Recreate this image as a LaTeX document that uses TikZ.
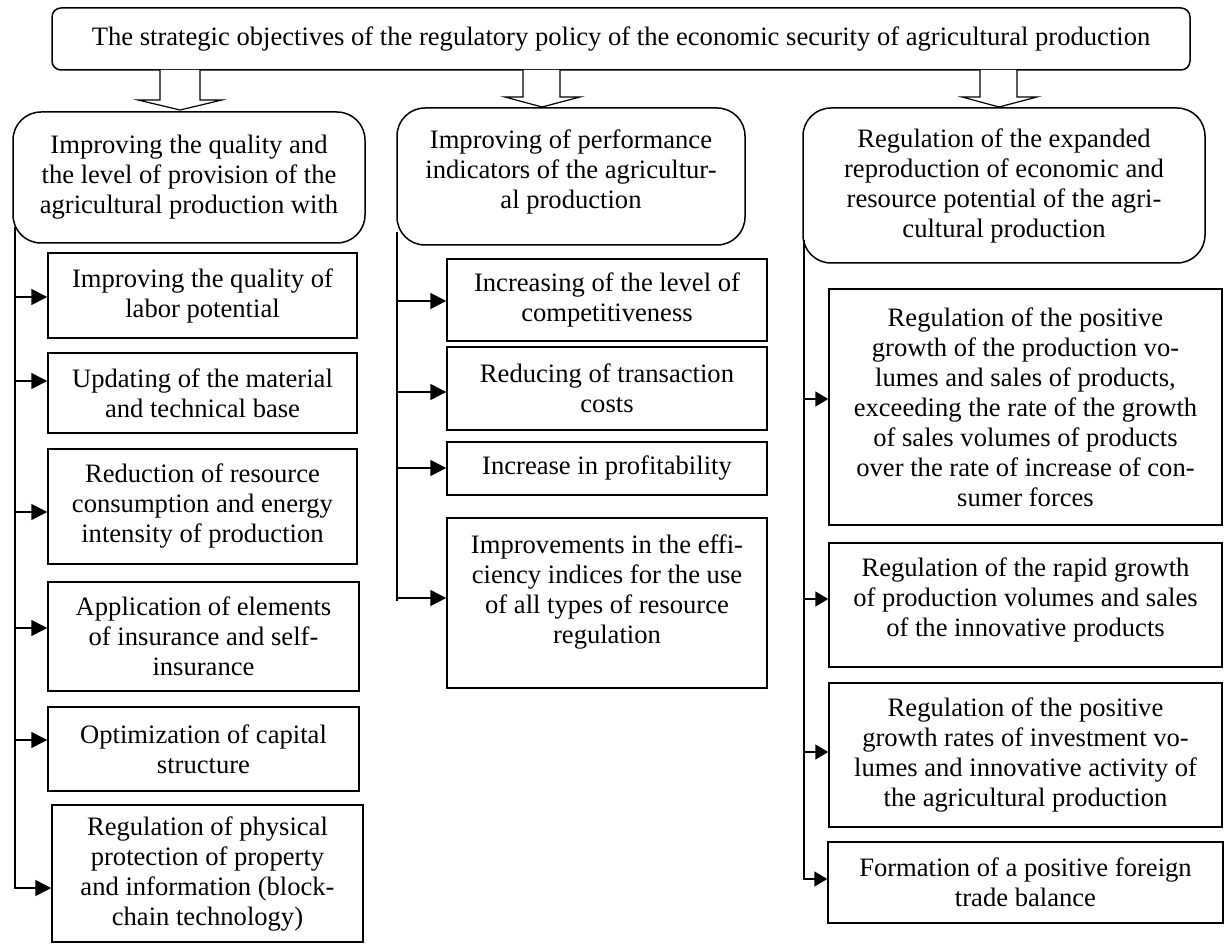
\documentclass[tikz,border=0pt]{standalone}
\usepackage{fontspec}
\setmainfont{Liberation Serif}
\usetikzlibrary{arrows.meta}
\begin{document}
\begin{tikzpicture}[x=1pt,y=-1pt,
  every node/.style={font=\fontsize{26.6}{30}\selectfont},
  txt/.style={align=center,inner sep=0pt},
  topbox/.style={draw,line width=1.5pt,rounded corners=9pt,inner sep=0pt,align=center},
  hdr/.style={draw,line width=1.5pt,rounded corners=28pt,inner sep=0pt,align=center},
  itembox/.style={draw,line width=1.5pt,inner sep=0pt,align=center},
  spine/.style={line width=1.5pt},
  arr/.style={line width=1.5pt,-{Triangle[length=16pt,width=16pt]}},
  sarr/.style={line width=1.5pt,-{Triangle[length=13pt,width=15pt]}},
  blockarrow/.style={line width=1.2pt,fill=white,line join=miter}
]
\useasboundingbox (0,0) rectangle (1224,944);

% top box
\node[topbox,minimum width=1138pt,minimum height=62pt] (top) at (621,39)
  {The strategic objectives of the regulatory policy of the economic security of agricultural production};

% block arrows
\draw[blockarrow] (160,70) -- (160,100) -- (138,100) -- (180,110) -- (222,100) -- (200,100) -- (200,70);
\draw[blockarrow] (523,70) -- (523,97) -- (505,97) -- (542,107) -- (580,97) -- (560,97) -- (560,70);
\draw[blockarrow] (980,70) -- (980,97) -- (962,97) -- (999,107) -- (1037,97) -- (1017,97) -- (1017,70);

% headers
\node[hdr,minimum width=352pt,minimum height=131pt] (LH) at (189,177.5)
  {Improving the quality and\\the level of provision of the\\agricultural production with};
\node[hdr,minimum width=348pt,minimum height=137pt] (MH) at (571,176.5) {};
\node[txt] (MHt) at (571,172) {Improving of performance\\indicators of the agricultur-\\al production};
\node[hdr,minimum width=402pt,minimum height=155pt] (RH) at (1004,185.5)
  {Regulation of the expanded\\reproduction of economic and\\resource potential of the agri-\\cultural production};

% left column
\node[itembox,minimum width=309pt,minimum height=85pt] (L1) at (202.5,295.5)
  {Improving the quality of\\labor potential};
\node[itembox,minimum width=309pt,minimum height=80pt] (L2) at (202.5,393)
  {Updating of the material\\and technical base};
\node[itembox,minimum width=309pt,minimum height=115pt] (L3) at (202.5,506.5)
  {Reduction of resource\\consumption and energy\\intensity of production};
\node[itembox,minimum width=311pt,minimum height=109pt] (L4) at (203.5,636.5)
  {Application of elements\\of insurance and self-\\insurance};
\node[itembox,minimum width=311pt,minimum height=84pt] (L5) at (203.5,749)
  {Optimization of capital\\structure};
\node[itembox,minimum width=311pt,minimum height=137pt] (L6) at (207.5,873.5)
  {Regulation of physical\\protection of property\\and information (block-\\chain technology)};

\coordinate (ls) at (15,227);
\coordinate (l1) at (15,297);
\coordinate (l2) at (15,381);
\coordinate (l3) at (15,512);
\coordinate (l4) at (15,628);
\coordinate (l5) at (15,740);
\coordinate (l6) at (15,888);
\draw[arr] (ls) -- (l6) -- (l6 -| L6.west);
\draw[arr] (l1) -- (l1 -| L1.west);
\draw[arr] (l2) -- (l2 -| L2.west);
\draw[arr] (l3) -- (l3 -| L3.west);
\draw[arr] (l4) -- (l4 -| L4.west);
\draw[arr] (l5) -- (l5 -| L5.west);

% middle column
\node[itembox,minimum width=320pt,minimum height=82pt] (M1) at (607,300)
  {Increasing of the level of\\competitiveness};
\node[itembox,minimum width=320pt,minimum height=83pt] (M2) at (607,388.5)
  {Reducing of transaction\\costs};
\node[itembox,minimum width=320pt,minimum height=53pt] (M3) at (607,468.5)
  {Increase in profitability};
\node[itembox,minimum width=320pt,minimum height=170pt] (M4) at (607,603) {};
\node[txt] (M4t) at (607,592) {Improvements in the effi-\\ciency indices for the use\\of all types of resource\\regulation};

\coordinate (ms) at (397,232);
\coordinate (m1) at (397,301);
\coordinate (m2) at (397,392);
\coordinate (m3) at (397,468);
\coordinate (m4) at (397,598);
\coordinate (me) at (397,601);
\draw[spine] (ms) -- (me);
\draw[arr] (m1) -- (m1 -| M1.west);
\draw[arr] (m2) -- (m2 -| M2.west);
\draw[arr] (m3) -- (m3 -| M3.west);
\draw[arr] (m4) -- (m4 -| M4.west);

% right column
\node[itembox,minimum width=393pt,minimum height=236pt] (R1) at (1025.5,407)
  {Regulation of the positive\\growth of the production vo-\\lumes and sales of products,\\exceeding the rate of the growth\\of sales volumes of products\\over the rate of increase of con-\\sumer forces};
\node[itembox,minimum width=393pt,minimum height=124pt] (R2) at (1025.5,605) {};
\node[txt] (R2t) at (1025.5,600) {Regulation of the rapid growth\\of production volumes and sales\\of the innovative products};
\node[itembox,minimum width=393pt,minimum height=144pt] (R3) at (1025.5,755)
  {Regulation of the positive\\growth rates of investment vo-\\lumes and innovative activity of\\the agricultural production};
\node[itembox,minimum width=395pt,minimum height=81pt] (R4) at (1025.5,882.5)
  {Formation of a positive foreign\\trade balance};

\coordinate (rs) at (804,240);
\coordinate (r1) at (804,399);
\coordinate (r2) at (804,599);
\coordinate (r3) at (804,752);
\coordinate (r4) at (804,879);
\draw[sarr] (rs) -- (r4) -- (r4 -| R4.west);
\draw[sarr] (r1) -- (r1 -| R1.west);
\draw[sarr] (r2) -- (r2 -| R2.west);
\draw[sarr] (r3) -- (r3 -| R3.west);
\end{tikzpicture}
\end{document}
